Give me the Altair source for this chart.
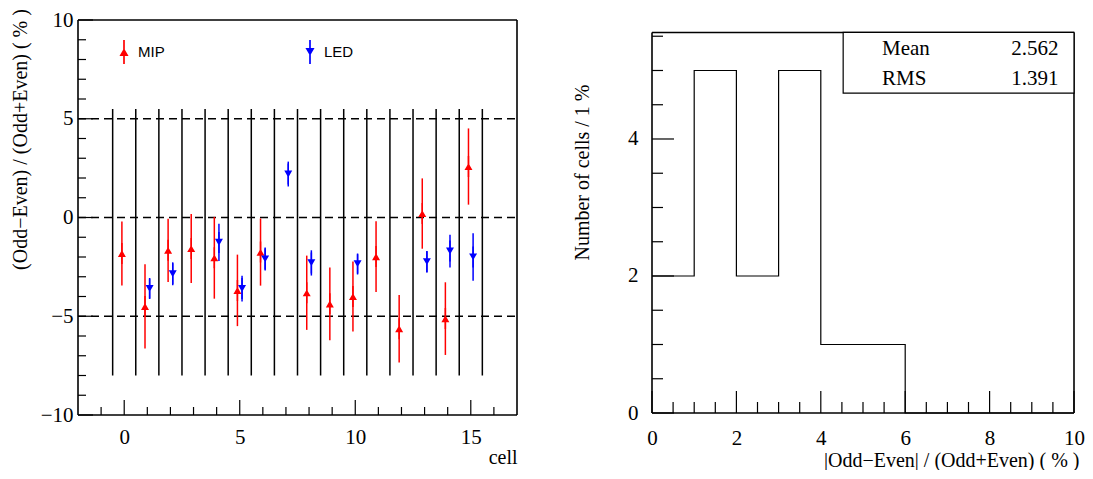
import altair as alt
import pandas as pd

# ---------------- left panel data ----------------
mip_cells = [0, 1, 2, 3, 4, 5, 6, 8, 9, 10, 11, 12, 13, 14, 15]
mip_vals = [-1.82, -4.50, -1.66, -1.57, -2.04, -3.69, -1.75, -3.81, -4.37, -4.00, -1.98, -5.63, 0.20, -5.12, 2.58]
mip_errs = [1.62, 2.13, 1.60, 1.75, 2.07, 1.81, 1.70, 1.88, 1.84, 1.77, 1.79, 1.71, 1.78, 1.84, 1.93]

led_cells = [1, 2, 4, 5, 6, 7, 8, 10, 13, 14, 15]
led_vals = [-3.60, -2.85, -1.26, -3.60, -2.10, 2.20, -2.30, -2.35, -2.24, -1.70, -2.00]
led_errs = [0.50, 0.58, 0.94, 0.65, 0.58, 0.63, 0.64, 0.49, 0.55, 0.83, 1.20]

series_names = ["MIP", "LED"]
series_offset = {"MIP": -0.1, "LED": 0.1}

cell_boundaries = [-0.5, 0.5, 1.5, 2.5, 3.5, 4.5, 5.5, 6.5, 7.5, 8.5, 9.5, 10.5, 11.5, 12.5, 13.5, 14.5, 15.5]
boundary_range = [-8, 5.5]
dashed_levels = [-5, 0, 5]

left_xlim = [-2, 17]
left_ylim = [-10, 10]
left_x_major = [0, 5, 10, 15]
left_x_minor = [-1, 1, 2, 3, 4, 6, 7, 8, 9, 11, 12, 13, 14, 16]
left_y_major = [-10, -5, 0, 5, 10]
left_y_minor = [-9, -8, -7, -6, -4, -3, -2, -1, 1, 2, 3, 4, 6, 7, 8, 9]

# ---------------- right panel data ----------------
bin_edges = [0, 1, 2, 3, 4, 5, 6, 7, 8, 9, 10]
bin_counts = [2, 5, 2, 5, 1, 1, 0, 0, 0, 0]

right_xlim = [0, 10]
right_frame_top = 5.555
right_y_view_top = 5.737
right_x_major = [0, 2, 4, 6, 8, 10]
right_x_minor = [0.5, 1, 1.5, 2.5, 3, 3.5, 4.5, 5, 5.5, 6.5, 7, 7.5, 8.5, 9, 9.5]
right_y_major = [0, 2, 4]
right_y_minor = [0.5, 1, 1.5, 2.5, 3, 3.5, 4.5, 5, 5.5]

stats_names = ["Mean", "RMS"]
stats_values = ["2.562", "1.391"]
stats_box = {"x1": 4.53, "x2": 10.0, "y1": 4.67, "y2": 5.555}
stats_rows_y = [5.32, 4.88]
stats_name_x = 5.45
stats_value_x = 9.63

# ---------------- styling ----------------
RED = "#ff0000"
BLUE = "#0000ff"
SERIF = "Liberation Serif"
SANS = "Liberation Sans"
W1, H1 = 439, 395
W2, H2 = 422, 393

MIP_PATH = "M-0.07,-1L0.07,-1L0.07,1L-0.07,1Z M0,-0.32L0.38,0.34L-0.38,0.34Z"
LED_PATH = "M-0.07,-1L0.07,-1L0.07,1L-0.07,1Z M-0.38,-0.34L0.38,-0.34L0,0.32Z"

# ================= LEFT PANEL =================
rows = []
for c, v, e in zip(mip_cells, mip_vals, mip_errs):
    rows.append({"series": "MIP", "cell": c, "val": v, "err": e, "off": series_offset["MIP"]})
for c, v, e in zip(led_cells, led_vals, led_errs):
    rows.append({"series": "LED", "cell": c, "val": v, "err": e, "off": series_offset["LED"]})
pts = pd.DataFrame(rows)

xs1 = alt.Scale(domain=left_xlim, nice=False, zero=False)
ys1 = alt.Scale(domain=left_ylim, nice=False, zero=False)

common_axis = dict(ticks=False, tickSize=0, domain=False, grid=False, labelFont=SERIF,
                   labelFontSize=21, labelColor="black", labelFlush=False, labelOverlap=False,
                   titleFont=SERIF, titleFontSize=20, titleFontWeight="normal", titleColor="black",
                   format="d")

xax1 = alt.Axis(values=left_x_major, labelPadding=22, labelBaseline="middle",
                title="cell", titleAlign="right", titleX=W1, titleY=42, titleBaseline="middle",
                **common_axis)
yax1 = alt.Axis(values=left_y_major, labelPadding=5, labelBaseline="middle",
                title="(Odd\u2212Even) / (Odd+Even) ( % )", titleAlign="center",
                titleX=-58, titleY=119, titleBaseline="middle", **common_axis)

X1 = lambda f: alt.X(f, type="quantitative", scale=xs1, axis=xax1)
Y1 = lambda f: alt.Y(f, type="quantitative", scale=ys1, axis=yax1)

color_scale = alt.Scale(domain=series_names, range=[RED, BLUE])
shape_scale = alt.Scale(domain=series_names, range=[MIP_PATH, LED_PATH])
leg = alt.Legend(title=None, orient="none", legendX=34, legendY=20, direction="horizontal",
                 labelFont=SANS, labelFontSize=15, labelColor="black", labelOffset=2,
                 columnPadding=133, symbolSize=576, symbolStrokeWidth=0, padding=0)

base = alt.Chart(pts).transform_calculate(
    xpos="datum.cell + datum.off", lo="datum.val - datum.err", hi="datum.val + datum.err")

errbars = base.mark_rule(strokeWidth=1.5).encode(
    x=X1("xpos"), y=Y1("lo"), y2="hi:Q",
    color=alt.Color("series:N", scale=color_scale, legend=leg))

markers = base.mark_point(filled=True, size=441, opacity=1, strokeWidth=0).encode(
    x=X1("xpos"), y=Y1("val"),
    color=alt.Color("series:N", scale=color_scale, legend=leg),
    shape=alt.Shape("series:N", scale=shape_scale, legend=leg))

bnd_df = pd.DataFrame({"b": cell_boundaries, "lo": boundary_range[0], "hi": boundary_range[1]})
boundaries = alt.Chart(bnd_df).mark_rule(color="black", strokeWidth=1.5).encode(
    x=X1("b"), y=Y1("lo"), y2="hi:Q")

dash_df = pd.DataFrame({"lev": dashed_levels, "x1": left_xlim[0], "x2": left_xlim[1]})
dashes = alt.Chart(dash_df).mark_rule(color="black", strokeWidth=1.3, strokeDash=[8, 5]).encode(
    x=X1("x1"), x2="x2:Q", y=Y1("lev"))

frame1_df = pd.DataFrame({
    "x1": [left_xlim[0], left_xlim[1], left_xlim[0], left_xlim[0]],
    "x2": [left_xlim[0], left_xlim[1], left_xlim[1], left_xlim[1]],
    "y1": [left_ylim[0], left_ylim[0], left_ylim[0], left_ylim[1]],
    "y2": [left_ylim[1], left_ylim[1], left_ylim[0], left_ylim[1]],
})
frame1 = alt.Chart(frame1_df).mark_rule(color="black", strokeWidth=1.6).encode(
    x=X1("x1"), x2="x2:Q", y=Y1("y1"), y2="y2:Q")

xt1_major = alt.Chart(pd.DataFrame({"t": left_x_major})).mark_rule(color="black", strokeWidth=1.2).encode(
    x=X1("t"), y=alt.value(H1), y2=alt.value(H1 - 15))
xt1_minor = alt.Chart(pd.DataFrame({"t": left_x_minor})).mark_rule(color="black", strokeWidth=1.2).encode(
    x=X1("t"), y=alt.value(H1), y2=alt.value(H1 - 8))
yt1_major = alt.Chart(pd.DataFrame({"t": left_y_major})).mark_rule(color="black", strokeWidth=1.2).encode(
    y=Y1("t"), x=alt.value(0), x2=alt.value(15))
yt1_minor = alt.Chart(pd.DataFrame({"t": left_y_minor})).mark_rule(color="black", strokeWidth=1.2).encode(
    y=Y1("t"), x=alt.value(0), x2=alt.value(8))

left = alt.layer(boundaries, dashes, xt1_major, xt1_minor, yt1_major, yt1_minor,
                 errbars, markers, frame1).properties(width=W1, height=H1)

# ================= RIGHT PANEL =================
xs2 = alt.Scale(domain=right_xlim, nice=False, zero=False)
ys2 = alt.Scale(domain=[0, right_y_view_top], nice=False, zero=False)

xax2 = alt.Axis(values=right_x_major, labelPadding=25, labelBaseline="middle",
                title="|Odd\u2212Even| / (Odd+Even) ( % )", titleAlign="right", titleX=W2 + 5,
                titleY=47, titleBaseline="middle", **common_axis)
yax2 = alt.Axis(values=right_y_major, labelPadding=14, labelBaseline="middle",
                title="Number of cells / 1 %", titleAlign="center",
                titleX=-70, titleY=152, titleBaseline="middle", **common_axis)

X2 = lambda f: alt.X(f, type="quantitative", scale=xs2, axis=xax2)
Y2 = lambda f: alt.Y(f, type="quantitative", scale=ys2, axis=yax2)

hist_df = pd.DataFrame({"edge": bin_edges, "count": bin_counts + [bin_counts[-1]]})
hist = alt.Chart(hist_df).mark_line(interpolate="step-after", color="black", strokeWidth=1.2).encode(
    x=X2("edge"), y=Y2("count"))

frame2_df = pd.DataFrame({
    "x1": [right_xlim[0], right_xlim[1], right_xlim[0], right_xlim[0]],
    "x2": [right_xlim[0], right_xlim[1], right_xlim[1], right_xlim[1]],
    "y1": [0, 0, 0, right_frame_top],
    "y2": [right_frame_top, right_frame_top, 0, right_frame_top],
})
frame2 = alt.Chart(frame2_df).mark_rule(color="black", strokeWidth=1.6).encode(
    x=X2("x1"), x2="x2:Q", y=Y2("y1"), y2="y2:Q")

xt2_major = alt.Chart(pd.DataFrame({"t": right_x_major})).mark_rule(color="black", strokeWidth=1.2).encode(
    x=X2("t"), y=alt.value(H2), y2=alt.value(H2 - 22))
xt2_minor = alt.Chart(pd.DataFrame({"t": right_x_minor})).mark_rule(color="black", strokeWidth=1.2).encode(
    x=X2("t"), y=alt.value(H2), y2=alt.value(H2 - 11))
yt2_major = alt.Chart(pd.DataFrame({"t": right_y_major})).mark_rule(color="black", strokeWidth=1.2).encode(
    y=Y2("t"), x=alt.value(0), x2=alt.value(22))
yt2_minor = alt.Chart(pd.DataFrame({"t": right_y_minor})).mark_rule(color="black", strokeWidth=1.2).encode(
    y=Y2("t"), x=alt.value(0), x2=alt.value(11))

box_df = pd.DataFrame([stats_box])
box = alt.Chart(box_df).mark_rect(fill="white", stroke="black", strokeWidth=1.2).encode(
    x=X2("x1"), x2="x2:Q", y=Y2("y1"), y2="y2:Q")

stats_df = pd.DataFrame({"name": stats_names, "value": stats_values, "y": stats_rows_y,
                         "xn": stats_name_x, "xv": stats_value_x})
stat_names = alt.Chart(stats_df).mark_text(align="left", baseline="middle", font=SERIF,
                                           fontSize=21, color="black").encode(
    x=X2("xn"), y=Y2("y"), text="name:N")
stat_vals = alt.Chart(stats_df).mark_text(align="right", baseline="middle", font=SERIF,
                                          fontSize=21, color="black").encode(
    x=X2("xv"), y=Y2("y"), text="value:N")

right = alt.layer(hist, xt2_major, xt2_minor, yt2_major, yt2_minor, frame2,
                  box, stat_names, stat_vals).properties(width=W2, height=H2)

chart = alt.hconcat(left, right, spacing=135, bounds="flush").resolve_scale(
    color="independent", shape="independent"
).properties(
    padding={"left": 1, "top": 0, "right": 0, "bottom": 0},
    background="white",
).configure_view(stroke=None).configure_axis(
    labelFont=SERIF, titleFont=SERIF, labelColor="black", titleColor="black"
)

chart.save("out.html", embed_options={"renderer": "svg", "actions": False})
